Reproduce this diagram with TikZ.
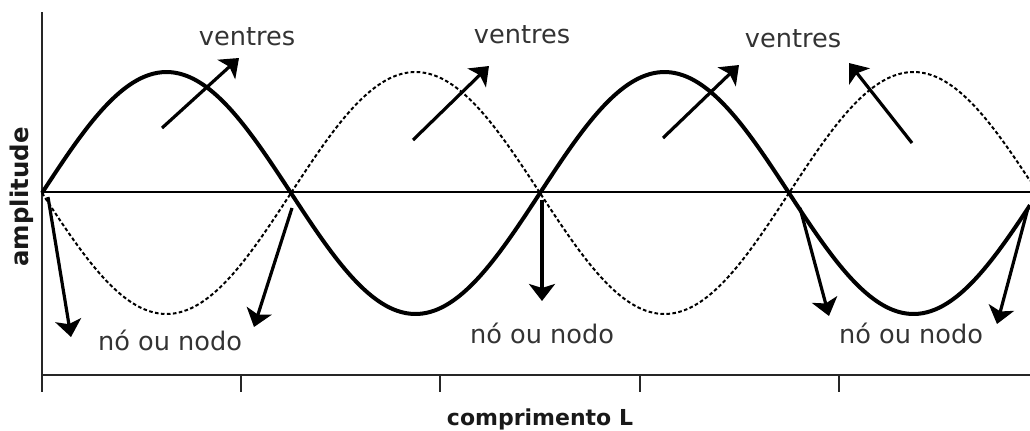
\documentclass[tikz,border=0pt]{standalone}
\usepackage{fontspec}
\setmainfont{DejaVu Sans}
\usetikzlibrary{arrows.meta}
\definecolor{txt}{HTML}{333333}
\begin{document}
\begin{tikzpicture}[x=0.5pt,y=-0.5pt,
 wave/.style={line width=2pt, line join=round},
 inv/.style={line width=1pt, dash pattern=on 1.8pt off 1.2pt},
 axis/.style={line width=0.8pt, draw=black!85},
 arr/.style={line width=1.6pt, -{Stealth[length=8.5pt,width=13pt,inset=2pt]}},
 lab/.style={text=txt, font=\fontsize{12.8}{15}\selectfont, inner sep=0pt, anchor=base},
 axlab/.style={text=black!90, font=\bfseries\fontsize{11}{13}\selectfont, inner sep=0pt}]
\useasboundingbox (0,0) rectangle (1030,430);
% axes
\coordinate (o) at (42,375);
\coordinate (top) at (42,12);
\coordinate (xend) at (1030,375);
\draw[axis] (top) -- (o) -- (xend);
\foreach \t in {42,241,440,640,839}{\draw[axis] (\t,375) -- (\t,392);}
\coordinate (m0) at (42,192);
\coordinate (m1) at (1030,192);
\draw[axis,draw=black] (m0) -- (m1);
% waves
\draw[inv] plot[domain=42:1030,samples=240,smooth] ({\x},{193+121*sin((\x-42)/249*180)});
\draw[wave] plot[domain=42:1030,samples=240,smooth] ({\x},{193-121*sin((\x-42)/249*180)});
% arrows
\coordinate (a1s) at (162,128); \coordinate (a1e) at (239,58);
\coordinate (a2s) at (413,140); \coordinate (a2e) at (489,66);
\coordinate (a3s) at (663,138); \coordinate (a3e) at (739,65);
\coordinate (a4s) at (912,143); \coordinate (a4e) at (849,63);
\coordinate (b1s) at (48,197);  \coordinate (b1e) at (71,337);
\coordinate (b2s) at (292,208); \coordinate (b2e) at (254,327);
\coordinate (b3s) at (542,200); \coordinate (b3e) at (542,301);
\coordinate (b4s) at (800,208); \coordinate (b4e) at (829,316);
\coordinate (b5s) at (1028,208); \coordinate (b5e) at (997,324);
\foreach \a in {a1,a2,a3,a4,b1,b2,b3,b4,b5}{\draw[arr] (\a s) -- (\a e);}
% labels
\node[lab] (v1) at (247,45) {ventres};
\node[lab] (v2) at (522,43) {ventres};
\node[lab] (v3) at (793,47) {ventres};
\node[lab] (n1) at (170,350) {nó ou nodo};
\node[lab] (n2) at (542,343) {nó ou nodo};
\node[lab] (n3) at (911,343) {nó ou nodo};
\node[axlab,anchor=base] (xl) at (540,425) {comprimento L};
\node[axlab,rotate=90,font=\bfseries\fontsize{12.2}{14}\selectfont] (yl) at (22,197) {amplitude};
\end{tikzpicture}
\end{document}
